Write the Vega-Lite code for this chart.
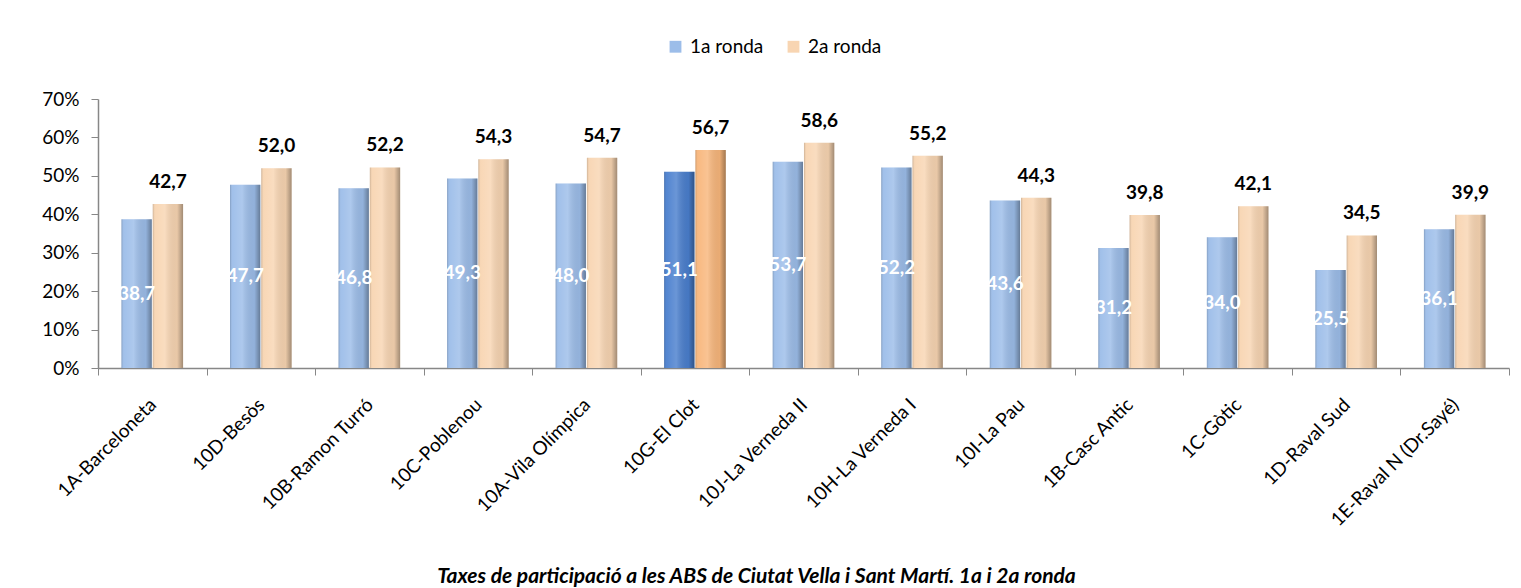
{
  "$schema": "https://vega.github.io/schema/vega-lite/v6.json",
  "autosize": {"type": "none"},
  "width": 1411,
  "height": 269,
  "padding": {"left": 98, "top": 99, "right": 12, "bottom": 220},
  "background": "white",
  "config": {
    "font": "Lato",
    "locale": {"number": {"decimal": ",", "thousands": ".", "grouping": [3], "currency": ["", " €"]}},
    "view": {"stroke": null},
    "axis": {"labelFont": "Lato", "labelColor": "#000", "grid": false, "domainColor": "#878787", "tickColor": "#878787"},
    "legend": {"labelFont": "Lato"}
  },
  "title": {
    "text": "Taxes de participació a les ABS de Ciutat Vella i Sant Martí. 1a i 2a ronda",
    "orient": "bottom",
    "anchor": "middle",
    "font": "Lato",
    "fontSize": 21,
    "fontStyle": "italic",
    "fontWeight": "bold",
    "color": "#000",
    "offset": 36,
    "dx": -47
  },
  "data": {
    "values": [
      {"abs": "1A-Barceloneta", "ronda": "1a ronda", "taxa": 38.7},
      {"abs": "1A-Barceloneta", "ronda": "2a ronda", "taxa": 42.7},
      {"abs": "10D-Besòs", "ronda": "1a ronda", "taxa": 47.7},
      {"abs": "10D-Besòs", "ronda": "2a ronda", "taxa": 52.0},
      {"abs": "10B-Ramon Turró", "ronda": "1a ronda", "taxa": 46.8},
      {"abs": "10B-Ramon Turró", "ronda": "2a ronda", "taxa": 52.2},
      {"abs": "10C-Poblenou", "ronda": "1a ronda", "taxa": 49.3},
      {"abs": "10C-Poblenou", "ronda": "2a ronda", "taxa": 54.3},
      {"abs": "10A-Vila Olímpica", "ronda": "1a ronda", "taxa": 48.0},
      {"abs": "10A-Vila Olímpica", "ronda": "2a ronda", "taxa": 54.7},
      {"abs": "10G-El Clot", "ronda": "1a ronda", "taxa": 51.1},
      {"abs": "10G-El Clot", "ronda": "2a ronda", "taxa": 56.7},
      {"abs": "10J-La Verneda II", "ronda": "1a ronda", "taxa": 53.7},
      {"abs": "10J-La Verneda II", "ronda": "2a ronda", "taxa": 58.6},
      {"abs": "10H-La Verneda I", "ronda": "1a ronda", "taxa": 52.2},
      {"abs": "10H-La Verneda I", "ronda": "2a ronda", "taxa": 55.2},
      {"abs": "10I-La Pau", "ronda": "1a ronda", "taxa": 43.6},
      {"abs": "10I-La Pau", "ronda": "2a ronda", "taxa": 44.3},
      {"abs": "1B-Casc Antic", "ronda": "1a ronda", "taxa": 31.2},
      {"abs": "1B-Casc Antic", "ronda": "2a ronda", "taxa": 39.8},
      {"abs": "1C-Gòtic", "ronda": "1a ronda", "taxa": 34.0},
      {"abs": "1C-Gòtic", "ronda": "2a ronda", "taxa": 42.1},
      {"abs": "1D-Raval Sud", "ronda": "1a ronda", "taxa": 25.5},
      {"abs": "1D-Raval Sud", "ronda": "2a ronda", "taxa": 34.5},
      {"abs": "1E-Raval N (Dr.Sayé)", "ronda": "1a ronda", "taxa": 36.1},
      {"abs": "1E-Raval N (Dr.Sayé)", "ronda": "2a ronda", "taxa": 39.9}
    ]
  },
  "encoding": {
    "x": {
      "field": "abs", "type": "nominal", "sort": null, "title": null,
      "scale": {"paddingInner": 0, "paddingOuter": 0},
      "axis": {"labelAngle": -45, "labelFontSize": 19, "labelOverlap": false, "tickBand": "extent", "tickSize": 7, "labelPadding": 20, "labelOffset": -6, "domainWidth": 1.5}
    },
    "xOffset": {"field": "ronda", "type": "nominal", "scale": {"paddingInner": 0.03, "paddingOuter": 0.75}}
  },
  "layer": [
    {
      "mark": {"type": "bar"},
      "encoding": {
        "y": {
          "field": "taxa", "type": "quantitative", "title": null,
          "scale": {"domain": [0, 70], "nice": false},
          "axis": {"values": [0, 10, 20, 30, 40, 50, 60, 70], "tickCount": 20, "labelExpr": "datum.value + '%'", "labelFontSize": 19, "labelOverlap": false, "labelBound": false, "tickSize": 7, "labelPadding": 12, "domainWidth": 1.5}
        },
        "color": {
          "condition": [
            {"test": "datum.abs === '10G-El Clot' && datum.ronda === '1a ronda'", "value": "#4A7FCE"},
            {"test": "datum.abs === '10G-El Clot' && datum.ronda === '2a ronda'", "value": "#F8B67B"}
          ],
          "field": "ronda", "type": "nominal",
          "scale": {"domain": ["1a ronda", "2a ronda"], "range": ["#9CBDE9", "#F8D5B2"]},
          "legend": {
            "title": null, "orient": "none", "direction": "horizontal", "legendX": 568, "legendY": -62,
            "symbolType": "square", "symbolSize": 140, "labelFontSize": 19, "columnPadding": 20, "labelOffset": 5
          }
        }
      }
    },
    {
      "mark": {
        "type": "bar",
        "fill": {
          "gradient": "linear", "x1": 0, "x2": 1, "y1": 0, "y2": 0,
          "stops": [
            {"offset": 0, "color": "rgba(0,0,0,0.18)"},
            {"offset": 0.08, "color": "rgba(255,255,255,0.05)"},
            {"offset": 0.4, "color": "rgba(255,255,255,0.18)"},
            {"offset": 0.8, "color": "rgba(0,0,0,0.06)"},
            {"offset": 1, "color": "rgba(0,0,0,0.35)"}
          ]
        }
      },
      "encoding": {
        "y": {"field": "taxa", "type": "quantitative"}
      }
    },
    {
      "transform": [{"filter": "datum.ronda === '2a ronda'"}],
      "mark": {"type": "text", "color": "black", "fontSize": 19, "fontWeight": "bold", "baseline": "alphabetic", "align": "center", "dy": -16},
      "encoding": {
        "y": {"field": "taxa", "type": "quantitative"},
        "text": {"field": "taxa", "type": "quantitative", "format": ".1f"}
      }
    },
    {
      "transform": [{"filter": "datum.ronda === '1a ronda'"}],
      "mark": {"type": "text", "color": "white", "fontSize": 19, "fontWeight": "bold", "baseline": "middle", "align": "center"},
      "encoding": {
        "y": {"datum": 0, "type": "quantitative"},
        "yOffset": {"field": "taxa", "type": "quantitative", "scale": {"domain": [0, 70], "range": [0, -134.5], "zero": true, "nice": false}},
        "text": {"field": "taxa", "type": "quantitative", "format": ".1f"}
      }
    }
  ]
}
